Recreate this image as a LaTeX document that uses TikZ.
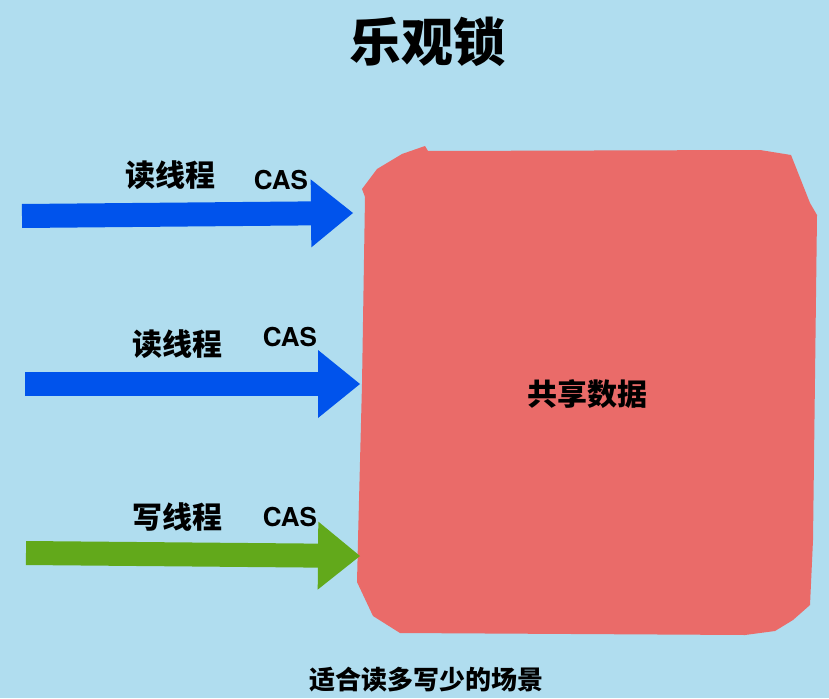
\documentclass[tikz,border=0pt]{standalone}
\usepackage{fontspec}
\setmainfont{TeX Gyre Heros}
\newfontfamily\cjk{Noto Sans CJK SC}
\usetikzlibrary{arrows.meta}
\definecolor{skyblue}{RGB}{176,221,239}
\definecolor{shared}{RGB}{234,107,105}
\definecolor{readblue}{RGB}{0,83,236}
\definecolor{writegreen}{RGB}{98,169,27}
\begin{document}
\begin{tikzpicture}[
    x=1pt, y=-1pt,
    label/.style={inner sep=0pt, font=\cjk\bfseries\fontsize{30}{30}\selectfont},
    cas/.style={inner sep=0pt, font=\bfseries\fontsize{26}{26}\selectfont},
    flow/.style={line width=24pt, -{Triangle[width=68pt,length=42pt,line width=0pt]}}
]
\fill[skyblue] (0,0) rectangle (829,698);
\useasboundingbox (0,0) rectangle (829,698);

% shared data block
\fill[shared] (365,197) -- (362,189) -- (377,169) -- (402,154) -- (425,146) -- (428,151)
  -- (760,150) -- (791,155) -- (810,203) -- (817,215) -- (813,540) -- (810,605)
  -- (793,620) -- (775,631) -- (745,635) -- (400,633) -- (373,616) -- (357,582)
  -- (358,540) -- (362,384) -- cycle;
\node[label] (data) at (587,394) {共享数据};

\coordinate (in1) at (353,213);
\coordinate (in2) at (360,384);
\coordinate (in3) at (360,556);
\coordinate (t1) at (22,216);
\coordinate (t2) at (25,384);
\coordinate (t3) at (26,553);

\draw[flow, readblue] (t1) -- (in1);
\draw[flow, readblue] (t2) -- (in2);
\draw[flow, writegreen] (t3) -- (in3);

\node[label] (r1) at (170,175) {读线程};
\node[cas] (c1) at (281,180) {CAS};
\node[label] (r2) at (177,344) {读线程};
\node[cas] (c2) at (290,337) {CAS};
\node[label] (w1) at (177,517) {写线程};
\node[cas] (c3) at (290,517) {CAS};

\node[label, font=\cjk\bfseries\fontsize{52}{52}\selectfont] (title) at (427,42) {乐观锁};
\node[label, font=\cjk\bfseries\fontsize{26}{26}\selectfont] (note) at (426,680) {适合读多写少的场景};
\end{tikzpicture}
\end{document}
